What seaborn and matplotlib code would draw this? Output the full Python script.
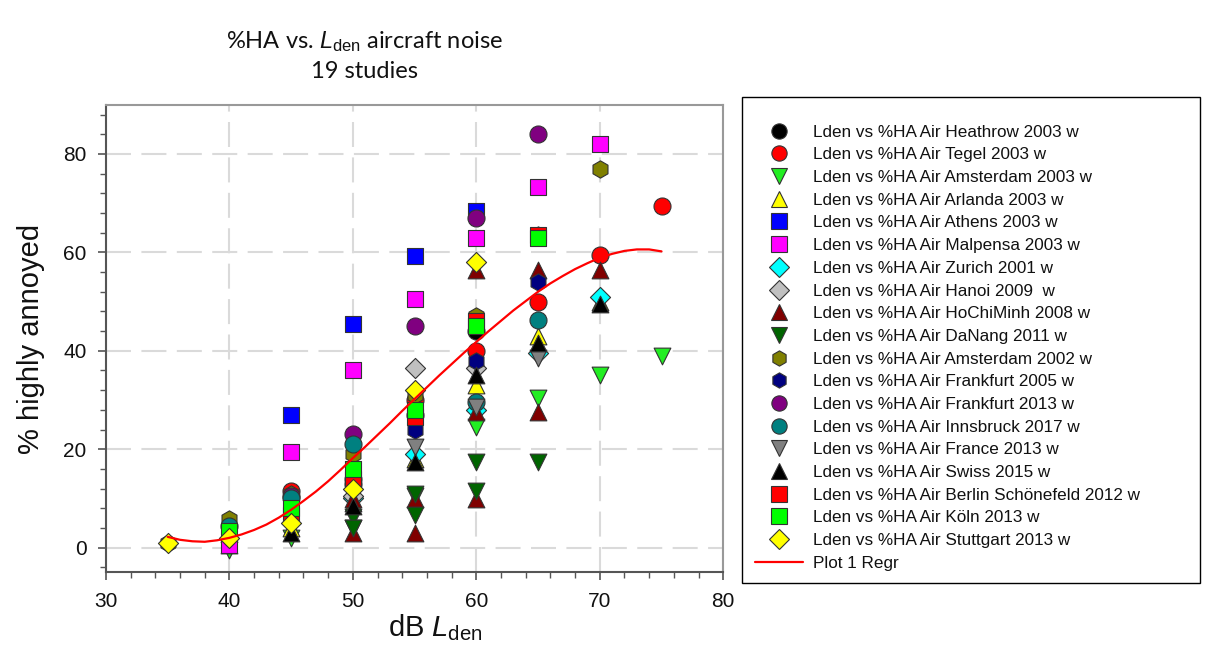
import numpy as np
import pandas as pd
import seaborn as sns
import matplotlib.pyplot as plt
from matplotlib.lines import Line2D
from matplotlib.patches import Rectangle
from matplotlib.ticker import MultipleLocator

# %HA, per study (x = dB Lden)
heathrow_x = [50, 55, 60]
heathrow_y = [13, 27, 44]
tegel_x = [45, 50, 55, 60, 65, 70, 75]
tegel_y = [11.5, 14, 30, 40, 50, 59.5, 69.5]
amsterdam03_x = [40, 45, 50, 55, 60, 65, 70, 75]
amsterdam03_y = [-0.5, 2, 4, 10.5, 24.5, 30.5, 35, 39]
arlanda_x = [40, 45, 50, 55, 60, 65, 70]
arlanda_y = [0.5, 4, 9, 18, 33, 43, 50]
athens_x = [45, 50, 55, 60]
athens_y = [27, 45.5, 59.3, 68.5]
malpensa_x = [40, 45, 50, 55, 60, 65, 70]
malpensa_y = [0.5, 19.5, 36, 50.5, 63, 73.3, 82]
zurich_x = [50, 55, 60, 65, 70]
zurich_y = [10, 19, 28, 39.5, 51]
hanoi_x = [50, 55, 60]
hanoi_y = [10.5, 36.5, 36.5]
hochiminh_x = [50, 50, 55, 55, 60, 60, 60, 65, 65, 70]
hochiminh_y = [9.8, 3, 9.8, 3, 56.5, 27.5, 9.8, 56.5, 27.5, 56.5]
danang_x = [50, 50, 55, 55, 60, 60, 65]
danang_y = [6.3, 4, 11, 6.7, 17.5, 11.5, 17.5]
amsterdam02_x = [35, 40, 45, 50, 55, 60, 65, 70]
amsterdam02_y = [1, 5.8, 11, 19, 31, 47, 63.5, 77]
frankfurt05_x = [45, 55, 60, 65]
frankfurt05_y = [10, 24, 38, 54]
frankfurt13_x = [45, 50, 55, 60, 65]
frankfurt13_y = [10.5, 23, 45, 67, 84]
innsbruck_x = [40, 45, 50, 60, 65]
innsbruck_y = [4.5, 10, 21, 29.5, 46.3]
france_x = [55, 60, 65]
france_y = [20.5, 28.5, 38.5]
swiss_x = [45, 50, 55, 60, 65, 70]
swiss_y = [3, 8.5, 17.5, 35, 41.5, 49.5]
berlin_x = [45, 50, 55, 60, 65]
berlin_y = [6.7, 14, 26.5, 46, 63.5]
koeln_x = [40, 45, 50, 55, 60, 65]
koeln_y = [3.3, 8, 16, 28, 45, 63]
stuttgart_x = [35, 40, 45, 50, 55, 60]
stuttgart_y = [1, 2, 5, 12, 32, 58]

# regression curve (1 dB steps)
regr_x = [35, 36, 37, 38, 39, 40, 41, 42, 43, 44, 45, 46, 47, 48, 49, 50, 51, 52, 53, 54,
          55, 56, 57, 58, 59, 60, 61, 62, 63, 64, 65, 66, 67, 68, 69, 70, 71, 72, 73, 74, 75]
regr_y = [2.2, 1.6, 1.3, 1.2, 1.5, 2.0, 2.7, 3.6, 4.7, 6.1, 7.7, 9.5, 11.4, 13.5, 15.8,
          18.2, 20.5, 22.9, 25.3, 27.8, 30.2, 32.6, 35.0, 37.3, 39.6, 41.8, 44.0, 46.1,
          48.2, 50.1, 52.0, 53.7, 55.2, 56.6, 57.8, 58.9, 59.7, 60.3, 60.6, 60.6, 60.2]

labels = [
    "Lden vs %HA Air Heathrow 2003 w",
    "Lden vs %HA Air Tegel 2003 w",
    "Lden vs %HA Air Amsterdam 2003 w",
    "Lden vs %HA Air Arlanda 2003 w",
    "Lden vs %HA Air Athens 2003 w",
    "Lden vs %HA Air Malpensa 2003 w",
    "Lden vs %HA Air Zurich 2001 w",
    "Lden vs %HA Air Hanoi 2009  w",
    "Lden vs %HA Air HoChiMinh 2008 w",
    "Lden vs %HA Air DaNang 2011 w",
    "Lden vs %HA Air Amsterdam 2002 w",
    "Lden vs %HA Air Frankfurt 2005 w",
    "Lden vs %HA Air Frankfurt 2013 w",
    "Lden vs %HA Air Innsbruck 2017 w",
    "Lden vs %HA Air France 2013 w",
    "Lden vs %HA Air Swiss 2015 w",
    "Lden vs %HA Air Berlin Schönefeld 2012 w",
    "Lden vs %HA Air Köln 2013 w",
    "Lden vs %HA Air Stuttgart 2013 w",
]
xs = [heathrow_x, tegel_x, amsterdam03_x, arlanda_x, athens_x, malpensa_x, zurich_x,
      hanoi_x, hochiminh_x, danang_x, amsterdam02_x, frankfurt05_x, frankfurt13_x,
      innsbruck_x, france_x, swiss_x, berlin_x, koeln_x, stuttgart_x]
ys = [heathrow_y, tegel_y, amsterdam03_y, arlanda_y, athens_y, malpensa_y, zurich_y,
      hanoi_y, hochiminh_y, danang_y, amsterdam02_y, frankfurt05_y, frankfurt13_y,
      innsbruck_y, france_y, swiss_y, berlin_y, koeln_y, stuttgart_y]

colors = ["#000000", "#ff0000", "#22ee22", "#ffff00", "#0000ff", "#ff00ff", "#00ffff",
          "#c0c0c0", "#800000", "#006400", "#808000", "#000080", "#800080",
          "#008080", "#808080", "#000000", "#ff0000", "#00ff00", "#ffff00"]
markers = ["o", "o", "v", "^", "s", "s", "D", "D", "^", "v", "h", "h", "o",
           "o", "v", "^", "s", "s", "D"]

rows = []
for lab, x, y in zip(labels, xs, ys):
    for a, b in zip(x, y):
        rows.append((lab, a, b))
df = pd.DataFrame(rows, columns=["study", "lden", "ha"])

sns.set_style("white")
plt.rcParams["font.family"] = ["Liberation Sans", "DejaVu Sans"]
plt.rcParams["mathtext.fontset"] = "custom"
plt.rcParams["mathtext.rm"] = "Liberation Sans"
plt.rcParams["mathtext.it"] = "Liberation Sans:italic"

fig = plt.figure(figsize=(12.08, 6.67), dpi=100)
ax = fig.add_axes([0.0877, 0.142, 0.511, 0.701])

edge = "#333333"
sizes = {"o": 150, "s": 130, "D": 105, "v": 145, "^": 145, "h": 155}
for lab, col, mk in zip(labels, colors, markers):
    sns.scatterplot(data=df[df.study == lab], x="lden", y="ha", ax=ax, color=col,
                    marker=mk, s=sizes[mk], edgecolor=edge, linewidth=0.8, zorder=3)

sns.lineplot(x=regr_x, y=regr_y, ax=ax, color="#ff0000", lw=1.6, zorder=4)

ax.set_xlim(30, 80)
ax.set_ylim(-5, 90)
ax.xaxis.set_major_locator(MultipleLocator(10))
ax.xaxis.set_minor_locator(MultipleLocator(2))
ax.yaxis.set_major_locator(MultipleLocator(20))
ax.yaxis.set_minor_locator(MultipleLocator(4))
ax.tick_params(which="major", direction="out", length=6, width=1.2, color="#555555",
               labelsize=15, labelcolor="#111111", bottom=True, left=True, pad=8)
ax.tick_params(which="minor", direction="out", length=4, width=1.0, color="#555555",
               bottom=True, left=True)
ax.grid(True, which="major", color="#dadada", lw=1.5, ls=(0, (12, 5)), zorder=0)
for side in ["left", "bottom"]:
    ax.spines[side].set_color("#555555")
    ax.spines[side].set_linewidth(1.5)
for side in ["top", "right"]:
    ax.spines[side].set_color("#999999")
    ax.spines[side].set_linewidth(1.5)

ax.set_xlabel(r"dB $L_{\mathrm{den}}$", fontsize=21, va="center", color="#111111")
ax.xaxis.set_label_coords(0.534, -0.118)
ax.set_ylabel("% highly annoyed", fontsize=21, va="center", color="#111111")
ax.yaxis.set_label_coords(-0.122, 0.5)

fig.text(0.302, 0.938, r"%HA vs. $L_{\mathrm{den}}$ aircraft noise", ha="center",
         va="center", fontsize=17, color="#111111", family=["Lato", "DejaVu Sans"])
fig.text(0.302, 0.893, "19 studies", ha="center", va="center", fontsize=17,
         color="#111111", family=["Lato", "DejaVu Sans"])

handles = []
for col, mk in zip(colors, markers):
    handles.append(Line2D([], [], ls="none", marker=mk, markersize=11 if mk != "D" else 10,
                          markerfacecolor=col, markeredgecolor=edge, markeredgewidth=0.8))
handles.append(Line2D([], [], color="#ff0000", lw=1.6))

# legend box drawn as its own frame
fig.patches.append(Rectangle((0.6142, 0.1259), 0.379, 0.7286, transform=fig.transFigure,
                             fill=False, edgecolor="black", lw=1.0))
fig.legend(handles, labels + ["Plot 1 Regr"], loc="upper left",
           bbox_to_anchor=(0.625, 0.813), fontsize=12.3, frameon=False,
           labelspacing=0.45, handlelength=2.8, handletextpad=0.6,
           borderpad=0, borderaxespad=0, labelcolor="#111111")

fig.savefig("out.png", dpi=100)
